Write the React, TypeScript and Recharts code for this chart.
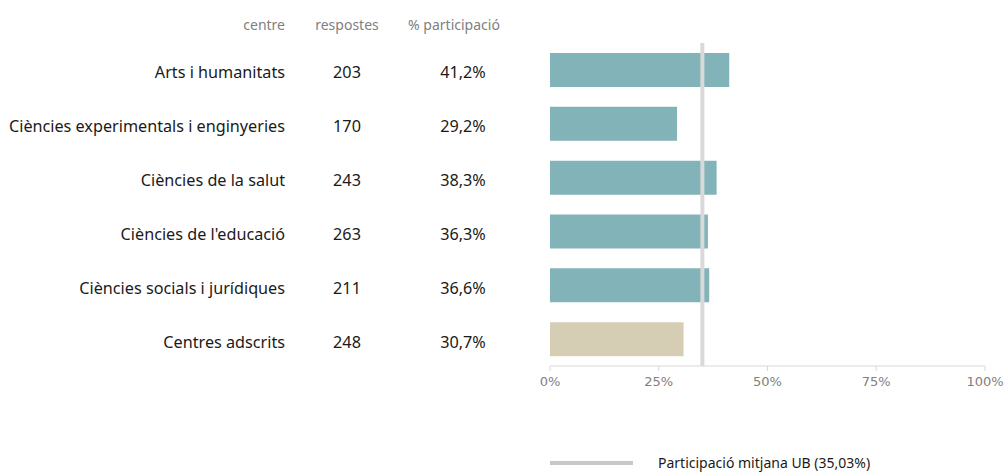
import React from 'react';
import { BarChart, Bar, XAxis, YAxis, Cell, ReferenceLine, Legend } from 'recharts';

const centres = [
  'Arts i humanitats',
  'Ciències experimentals i enginyeries',
  'Ciències de la salut',
  "Ciències de l'educació",
  'Ciències socials i jurídiques',
  'Centres adscrits',
];
const respostes = [203, 170, 243, 263, 211, 248];
const participacio = [41.2, 29.2, 38.3, 36.3, 36.6, 30.7];
const barColors = ['#82b3b9', '#82b3b9', '#82b3b9', '#82b3b9', '#82b3b9', '#d6ceb4'];
const headers = ['centre', 'respostes', '% participació'];
const xTicks = [0, 25, 50, 75, 100];
const mitjanaUB = 35.03;
const legendLabel = 'Participació mitjana UB (35,03%)';

const data = centres.map((c, i) => ({ name: c, respostes: respostes[i], pct: participacio[i] }));

const fmtPct = (v: number) => v.toFixed(1).replace('.', ',') + '%';

const MAIN_FONT = "'Noto Sans', 'Open Sans', sans-serif";

const RowTick = (props: any) => {
  const { y, payload } = props;
  const i = centres.indexOf(payload.value);
  return (
    <g>
      <text x={285} y={y} dy={8.5} textAnchor="end" fontSize={16.2} fill="#1a1a1a" fontFamily={MAIN_FONT}>
        {payload.value}
      </text>
      <text x={347} y={y} dy={8.5} textAnchor="middle" fontSize={16.2} fill="#1a1a1a" fontFamily={MAIN_FONT}>
        {respostes[i]}
      </text>
      <text x={463} y={y} dy={8.5} textAnchor="middle" fontSize={16.2} fill="#1a1a1a" fontFamily={MAIN_FONT}>
        {fmtPct(participacio[i])}
      </text>
    </g>
  );
};

const LegendContent = () => (
  <svg width={340} height={24}>
    <line x1={0} y1={12} x2={83} y2={12} stroke="#c8c8c8" strokeWidth={4} />
    <text x={108} y={12} dy="0.35em" fontSize={14} fill="#1a1a1a" fontFamily={MAIN_FONT}>
      {legendLabel}
    </text>
  </svg>
);

export default function App() {
  return (
    <div style={{ position: 'absolute', left: 0, top: 0, background: '#fff' }}>
      <BarChart
        width={1005}
        height={476}
        data={data}
        layout="vertical"
        margin={{ top: 43, right: 20, bottom: 80, left: 549 }}
        barCategoryGap={20}
      >
        <text x={285} y={25} dy="0.35em" textAnchor="end" fontSize={14} fill="#7f7f7f" fontFamily={MAIN_FONT}>
          {headers[0]}
        </text>
        <text x={347} y={25} dy="0.35em" textAnchor="middle" fontSize={14} fill="#7f7f7f" fontFamily={MAIN_FONT}>
          {headers[1]}
        </text>
        <text x={454} y={25} dy="0.35em" textAnchor="middle" fontSize={14} fill="#7f7f7f" fontFamily={MAIN_FONT}>
          {headers[2]}
        </text>
        <XAxis
          type="number"
          domain={[0, 100]}
          ticks={xTicks}
          tickFormatter={(v: number) => `${v}%`}
          axisLine={{ stroke: '#d9d9d9' }}
          tickLine={{ stroke: '#d9d9d9' }}
          tickSize={5}
          tickMargin={6}
          tick={{ fill: '#808080', fontSize: 13, fontFamily: "'DejaVu Sans', sans-serif" }}
          height={30}
        />
        <YAxis
          type="category"
          dataKey="name"
          width={1}
          axisLine={false}
          tickLine={false}
          tick={<RowTick />}
          interval={0}
        />
        <Bar dataKey="pct" barSize={34} isAnimationActive={false}>
          {data.map((d, i) => (
            <Cell key={d.name} fill={barColors[i]} />
          ))}
        </Bar>
        <ReferenceLine x={mitjanaUB} stroke="#d9d9d9" strokeWidth={4} />
        <Legend
          layout="horizontal"
          verticalAlign="middle"
          align="center"
          content={<LegendContent />}
          wrapperStyle={{ left: 550, top: 451, width: 340, height: 24 }}
        />
      </BarChart>
    </div>
  );
}
